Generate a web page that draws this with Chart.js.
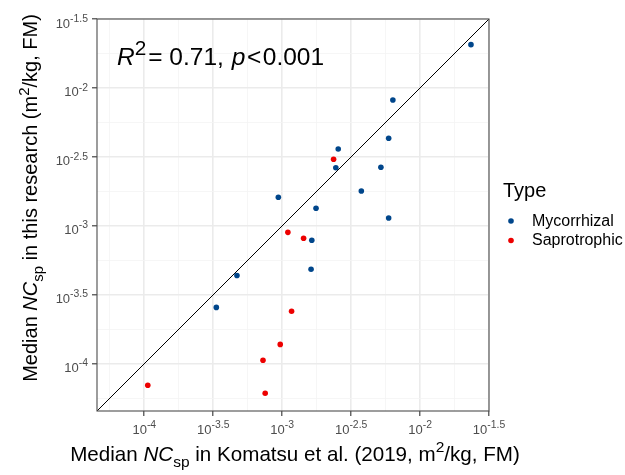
<!DOCTYPE html>
<html>
<head>
<meta charset="utf-8">
<script src="https://cdn.jsdelivr.net/npm/chart.js@4.4.1/dist/chart.umd.min.js"></script>
<style>
  html, body { margin: 0; padding: 0; background: #fff; }
  #wrap { width: 625px; height: 475px; }
</style>
</head>
<body>
<div id="wrap"><canvas id="chart" width="625" height="475"></canvas></div>
<script>
// median NCsp, Komatsu et al. (x) vs this research (y), m2/kg FM
const mycoX = [0.0234, 0.00635, 0.00592, 0.00255, 0.00245, 0.00520, 0.00375, 0.000938, 0.00176, 0.00592, 0.00164, 0.00162, 0.000470, 0.000333];
const mycoY = [0.0206, 0.00818, 0.00432, 0.00361, 0.00264, 0.00266, 0.00179, 0.00161, 0.00134, 0.00114, 0.000785, 0.000484, 0.000436, 0.000256];
const saproX = [0.00236, 0.00110, 0.00143, 0.00117, 0.000968, 0.000726, 0.000106, 0.000753];
const saproY = [0.00304, 0.000897, 0.000813, 0.000240, 0.000138, 0.000106, 0.0000698, 0.0000611];

const seriesNames = ['Mycorrhizal', 'Saprotrophic'];
const seriesColors = ['#00468B', '#ED0000'];

// axis exponents (log10)
const majorExps = [-4, -3.5, -3, -2.5, -2, -1.5];
const minorExps = [-4.25, -3.75, -3.25, -2.75, -2.25, -1.75];
const tickLabels = ['-4', '-3.5', '-3', '-2.5', '-2', '-1.5'];
const axisMin = Math.pow(10, -4.343);
const axisMax = Math.pow(10, -1.5);

const FONT = '"Liberation Sans", Arial, sans-serif';

function pts(xs, ys) { return xs.map((x, i) => ({ x: x, y: ys[i] })); }

function setTicks(scale) {
  const all = majorExps.map(e => ({ value: Math.pow(10, e), major: true }))
    .concat(minorExps.map(e => ({ value: Math.pow(10, e), major: false })));
  all.sort((a, b) => a.value - b.value);
  scale.ticks = all;
}

// text with italic / sub / sup pieces (pl/pr = extra gap in px)
function drawRich(ctx, parts, x, y, align, size, small, raise) {
  small = small || 0.72;
  raise = raise || 0.42;
  const fontFor = p => (p.i ? 'italic ' : '') + (p.s ? (size * small).toFixed(1) : size) + 'px ' + FONT;
  let w = 0;
  parts.forEach(p => {
    ctx.font = fontFor(p);
    p.w = ctx.measureText(p.t).width;
    w += p.w + (p.pl || 0) + (p.pr || 0);
  });
  let cx = align === 'center' ? x - w / 2 : (align === 'right' ? x - w : x);
  ctx.textAlign = 'left';
  ctx.textBaseline = 'alphabetic';
  parts.forEach(p => {
    ctx.font = fontFor(p);
    cx += p.pl || 0;
    const dy = p.s === 'sub' ? size * 0.28 : (p.s === 'sup' ? -size * raise : 0);
    ctx.fillText(p.t, cx, y + dy);
    cx += p.w + (p.pr || 0);
  });
}

const decorPlugin = {
  id: 'decor',
  afterDraw(chart) {
    const ctx = chart.ctx;
    const a = chart.chartArea;
    const xs = chart.scales.x, ys = chart.scales.y;
    ctx.save();

    // panel border
    ctx.strokeStyle = '#4d4d4d';
    ctx.lineWidth = 1.1;
    ctx.strokeRect(a.left, a.top, a.right - a.left, a.bottom - a.top);

    // tick labels 10^e
    ctx.fillStyle = '#4D4D4D';
    majorExps.forEach((e, i) => {
      const px = xs.getPixelForValue(Math.pow(10, e));
      drawRich(ctx, [{ t: '10' }, { t: tickLabels[i], s: 'sup' }], px, 433.5, 'center', 13, 0.8, 0.45);
      const py = ys.getPixelForValue(Math.pow(10, e));
      drawRich(ctx, [{ t: '10' }, { t: tickLabels[i], s: 'sup' }], 88, py + 8.5, 'right', 13, 0.8, 0.45);
    });

    // axis titles
    ctx.fillStyle = '#000';
    drawRich(ctx, [
      { t: 'Median ' }, { t: 'NC', i: true }, { t: 'sp', s: 'sub' },
      { t: ' in Komatsu et al. (2019, m' }, { t: '2', s: 'sup' }, { t: '/kg, FM)' }
    ], 295, 461, 'center', 20.6, 0.75);

    ctx.save();
    ctx.translate(37, 198);
    ctx.rotate(-Math.PI / 2);
    drawRich(ctx, [
      { t: 'Median ' }, { t: 'NC', i: true }, { t: 'sp', s: 'sub' },
      { t: ' in this research (m' }, { t: '2', s: 'sup' }, { t: '/kg, FM)' }
    ], 0, 0, 'center', 20, 0.75);
    ctx.restore();

    // annotation
    drawRich(ctx, [
      { t: 'R', i: true }, { t: '2', s: 'sup' }, { t: '=', pl: 2 }, { t: ' 0.71,' },
      { t: 'p', i: true, pl: 8 }, { t: '<', pl: 1.5, pr: 1.5 }, { t: '0.001' }
    ], 117, 65, 'left', 24.5, 0.85, 0.4);

    // legend
    ctx.font = '20px ' + FONT;
    ctx.fillText('Type', 503, 197);
    seriesNames.forEach((name, i) => {
      const yy = 221 + i * 19.5;
      ctx.fillStyle = seriesColors[i];
      ctx.beginPath();
      ctx.arc(511, yy, 2.8, 0, Math.PI * 2);
      ctx.fill();
      ctx.fillStyle = '#000';
      ctx.font = '16px ' + FONT;
      ctx.textBaseline = 'middle';
      ctx.fillText(name, 532, yy + 0.5);
      ctx.textBaseline = 'alphabetic';
    });

    ctx.restore();
  }
};

const gridOpts = {
  color: c => (c.tick && c.tick.major) ? '#EBEBEB' : '#F4F4F4',
  lineWidth: c => (c.tick && c.tick.major) ? 1.6 : 0.8,
  drawTicks: true,
  tickLength: 5,
  tickColor: c => (c.tick && c.tick.major) ? '#333333' : 'rgba(0,0,0,0)',
  tickWidth: 1.1
};

new Chart(document.getElementById('chart'), {
  type: 'scatter',
  data: {
    datasets: [
      {
        label: seriesNames[0],
        data: pts(mycoX, mycoY),
        backgroundColor: seriesColors[0],
        borderWidth: 0,
        pointRadius: 2.8,
        order: 1
      },
      {
        label: seriesNames[1],
        data: pts(saproX, saproY),
        backgroundColor: seriesColors[1],
        borderWidth: 0,
        pointRadius: 2.8,
        order: 0
      },
      {
        // 1:1 line
        type: 'line',
        label: '1:1',
        data: [{ x: axisMin, y: axisMin }, { x: axisMax, y: axisMax }],
        borderColor: '#000',
        borderWidth: 1,
        pointRadius: 0,
        fill: false,
        order: 5
      }
    ]
  },
  options: {
    responsive: false,
    animation: false,
    devicePixelRatio: 1,
    layout: { padding: { left: 0, top: 19, right: 136, bottom: 0 } },
    plugins: { legend: { display: false }, tooltip: { enabled: false } },
    scales: {
      x: {
        type: 'logarithmic',
        min: axisMin, max: axisMax,
        afterBuildTicks: setTicks,
        afterFit: s => { s.height = 64; },
        ticks: { display: false },
        grid: gridOpts,
        border: { display: false }
      },
      y: {
        type: 'logarithmic',
        min: axisMin, max: axisMax,
        afterBuildTicks: setTicks,
        afterFit: s => { s.width = 97; },
        ticks: { display: false },
        grid: gridOpts,
        border: { display: false }
      }
    }
  },
  plugins: [decorPlugin]
});
</script>
</body>
</html>
